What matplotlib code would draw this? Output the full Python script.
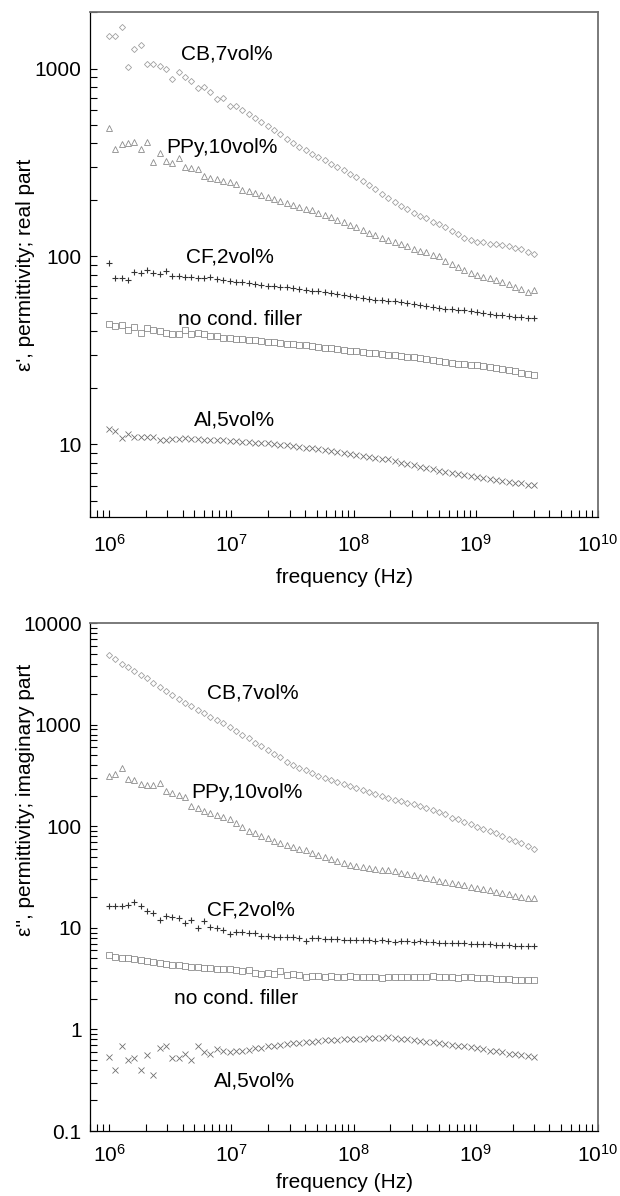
import numpy as np
import matplotlib
matplotlib.use("Agg")
import matplotlib.pyplot as plt
from matplotlib.ticker import LogLocator, NullFormatter, FuncFormatter

plt.rcParams['font.family'] = ['Liberation Sans', 'DejaVu Sans']

# sweep frequencies, MHz (1 MHz .. 3 GHz)
freq_mhz = [1.00, 1.127, 1.270, 1.431, 1.613, 1.817, 2.048, 2.308, 2.601, 2.931,
            3.304, 3.723, 4.196, 4.728, 5.329, 6.005, 6.767, 7.626, 8.594, 9.685,
            10.91, 12.30, 13.86, 15.62, 17.60, 19.84, 22.35, 25.19, 28.39, 32.00,
            36.06, 40.63, 45.79, 51.60, 58.16, 65.54, 73.86, 83.23, 93.80, 105.7,
            119.1, 134.2, 151.3, 170.5, 192.1, 216.5, 244.0, 275.0, 309.9, 349.2,
            393.6, 443.6, 499.9, 563.3, 634.8, 715.4, 806.2, 908.6, 1024, 1154,
            1300, 1465, 1651, 1861, 2097, 2363, 2663, 3001]

# real part
cb_real = [1490, 1500, 1670, 1020, 1270, 1340, 1060, 1060, 1030, 1000,
           880, 960, 905, 860, 790, 800, 755, 685, 700, 630,
           630, 605, 575, 545, 520, 497, 470, 448, 420, 400,
           383, 368, 352, 338, 325, 312, 300, 288, 276, 265,
           252, 240, 228, 216, 205, 195, 186, 178, 171, 164,
           160, 153, 148, 143, 137, 131, 126, 123, 119, 120,
           117, 116, 115, 113, 111, 109, 106, 103]
ppy_real = [485, 372, 398, 400, 408, 372, 405, 318, 355, 322,
            314, 334, 300, 295, 292, 268, 262, 258, 252, 248,
            244, 226, 222, 218, 213, 208, 203, 198, 193, 189,
            184, 180, 176, 171, 167, 162, 157, 152, 147, 143,
            138, 134, 130, 126, 122, 119, 116, 113, 110, 107,
            105, 102, 100, 95, 91, 88, 85, 82, 80, 78,
            77, 75, 73, 71, 69, 67, 65, 66]
cf_real = [92, 77, 77, 74.5, 83, 81.5, 85, 82, 80.5, 84,
           78.5, 78.5, 78, 77.5, 77, 77, 78, 75.5, 75, 74,
           73.5, 73, 72.2, 71.5, 70.7, 70, 69.3, 69, 68.5, 67.9,
           67.2, 66.5, 65.8, 65.2, 64.5, 63.8, 63, 62.3, 61.6, 61,
           60.3, 59.6, 59, 58.5, 58, 57.6, 57.2, 56.5, 55.8, 55.2,
           54.6, 54, 53.4, 52.8, 52.4, 52, 51.6, 51, 50.4, 49.8,
           49.3, 48.9, 48.5, 48.2, 47.9, 47.5, 47.2, 47]
none_real = [43.5, 42.5, 43.3, 40.5, 42, 39, 41.5, 40.5, 40, 39.3,
             38.5, 38.8, 40.5, 38.8, 39, 38.8, 37.5, 37.8, 37, 36.8,
             36.5, 36.2, 36, 35.8, 35.5, 35.2, 35, 34.7, 34.4, 34.1,
             33.9, 33.6, 33.3, 33, 32.7, 32.4, 32.1, 31.8, 31.5, 31.2,
             31, 30.8, 30.5, 30.2, 30, 29.8, 29.5, 29.3, 29.0, 28.8,
             28.5, 28.2, 27.9, 27.5, 27.1, 26.9, 26.7, 26.5, 26.3, 26.1,
             25.8, 25.5, 25.2, 24.8, 24.5, 24.1, 23.8, 23.5]
al_real = [12.1, 11.8, 10.8, 11.4, 11.0, 10.9, 10.9, 11.0, 10.6, 10.6,
           10.7, 10.7, 10.8, 10.7, 10.7, 10.6, 10.6, 10.5, 10.5, 10.4,
           10.4, 10.3, 10.3, 10.2, 10.1, 10.1, 10.0, 9.95, 9.9, 9.8,
           9.7, 9.6, 9.5, 9.4, 9.3, 9.2, 9.1, 9.0, 8.9, 8.8,
           8.7, 8.6, 8.5, 8.4, 8.3, 8.15, 8.0, 7.9, 7.75, 7.6,
           7.5, 7.4, 7.25, 7.15, 7.05, 6.95, 6.85, 6.75, 6.7, 6.6,
           6.55, 6.45, 6.4, 6.3, 6.25, 6.2, 6.1, 6.05]

# imaginary part
cb_imag = [4800, 4400, 4000, 3700, 3350, 3100, 2850, 2600, 2350, 2150,
           1950, 1800, 1650, 1520, 1400, 1300, 1200, 1110, 1030, 945,
           870, 800, 740, 665, 620, 570, 520, 480, 425, 400,
           375, 355, 335, 315, 300, 285, 272, 260, 247, 236,
           226, 216, 207, 197, 189, 183, 177, 171, 165, 157,
           152, 145, 138, 131, 122, 117, 111, 105, 99, 94,
           90, 85, 80, 75, 71, 68, 64, 60]
ppy_imag = [310, 330, 375, 295, 285, 258, 255, 254, 265, 222,
            212, 203, 195, 160, 150, 143, 136, 130, 124, 118,
            108, 98, 90, 85, 80, 76, 72, 68, 65, 62,
            60, 58, 55, 52, 49.5, 47.5, 45.5, 43.5, 42, 41,
            40, 39, 38, 37.5, 37, 36, 35, 34, 33, 32,
            31, 30, 29, 28.2, 27.5, 26.8, 26.2, 25.5, 24.8, 24,
            23.4, 22.8, 22.2, 21.5, 20.8, 20.2, 19.7, 19.5]
cf_imag = [16.4, 16.6, 16.6, 16.7, 18.0, 16.4, 14.6, 14.1, 11.9, 13.1,
           12.8, 12.6, 11.2, 11.9, 10.0, 11.6, 10.2, 9.9, 9.5, 8.7,
           9.2, 9.2, 9.0, 8.95, 8.4, 8.3, 8.2, 8.1, 8.05, 8.05,
           7.9, 7.5, 7.9, 7.9, 7.85, 7.7, 7.8, 7.6, 7.65, 7.6,
           7.55, 7.55, 7.5, 7.55, 7.45, 7.3, 7.4, 7.35, 7.3, 7.4,
           7.2, 7.2, 7.15, 7.15, 7.1, 7.1, 7.05, 7.0, 6.95, 6.95,
           6.9, 6.85, 6.8, 6.75, 6.7, 6.7, 6.65, 6.6]
none_imag = [5.4, 5.2, 5.1, 5.0, 4.9, 4.8, 4.7, 4.6, 4.5, 4.45,
             4.35, 4.3, 4.2, 4.15, 4.1, 4.05, 4.05, 3.95, 3.95, 3.9,
             3.85, 3.75, 3.85, 3.6, 3.55, 3.6, 3.5, 3.75, 3.4, 3.55,
             3.45, 3.3, 3.35, 3.35, 3.3, 3.35, 3.3, 3.3, 3.35, 3.25,
             3.3, 3.25, 3.3, 3.2, 3.3, 3.3, 3.3, 3.3, 3.25, 3.3,
             3.3, 3.35, 3.25, 3.3, 3.25, 3.2, 3.25, 3.25, 3.2, 3.2,
             3.2, 3.15, 3.15, 3.15, 3.1, 3.1, 3.1, 3.05]
al_imag = [0.54, 0.40, 0.68, 0.50, 0.52, 0.40, 0.56, 0.36, 0.65, 0.68,
           0.52, 0.52, 0.58, 0.50, 0.68, 0.60, 0.58, 0.64, 0.61, 0.60,
           0.62, 0.61, 0.63, 0.65, 0.66, 0.68, 0.69, 0.71, 0.72, 0.73,
           0.74, 0.75, 0.76, 0.77, 0.78, 0.78, 0.79, 0.80, 0.80, 0.81,
           0.81, 0.82, 0.82, 0.83, 0.84, 0.82, 0.81, 0.80, 0.78, 0.77,
           0.76, 0.75, 0.73, 0.72, 0.71, 0.69, 0.68, 0.67, 0.65, 0.64,
           0.62, 0.61, 0.60, 0.58, 0.57, 0.56, 0.55, 0.54]

labels = ["CB,7vol%", "PPy,10vol%", "CF,2vol%", "no cond. filler", "Al,5vol%"]

freq = np.array(freq_mhz) * 1e6

# marker, size, colour per series
styles = [
    dict(marker='D', ms=3.1, mfc='none', mec='#a0a0a0', mew=0.6),
    dict(marker='^', ms=4.3, mfc='none', mec='#8c8c8c', mew=0.6),
    dict(marker='+', ms=5.0, mfc='none', mec='#333333', mew=0.8),
    dict(marker='s', ms=4.2, mfc='none', mec='#8c8c8c', mew=0.6),
    dict(marker='x', ms=4.0, mfc='none', mec='#707070', mew=0.6),
]

fig = plt.figure(figsize=(6.2, 11.96), dpi=100)
ax1 = fig.add_axes([0.1452, 0.5677, 0.8194, 0.4222])
ax2 = fig.add_axes([0.1452, 0.0543, 0.8194, 0.4247])


def style_axes(ax, ylim, ylabel, xpad, xlabelpad, ylabel_y):
    ax.set_xscale('log')
    ax.set_yscale('log')
    ax.set_xlim(7e5, 1e10)
    ax.set_ylim(*ylim)
    ax.xaxis.set_major_locator(LogLocator(base=10, numticks=20))
    ax.xaxis.set_minor_locator(LogLocator(base=10, subs=np.arange(2, 10), numticks=100))
    ax.yaxis.set_major_locator(LogLocator(base=10, numticks=20))
    ax.yaxis.set_minor_locator(LogLocator(base=10, subs=np.arange(2, 10), numticks=100))
    ax.xaxis.set_minor_formatter(NullFormatter())
    ax.yaxis.set_minor_formatter(NullFormatter())
    ax.yaxis.set_major_formatter(FuncFormatter(lambda v, p: '%g' % v))
    ax.tick_params(which='both', direction='in', length=5, width=0.8,
                   top=False, right=False, labelsize=15)
    ax.tick_params(axis='y', pad=6)
    ax.tick_params(axis='x', pad=xpad)
    for side in ('top', 'right'):
        ax.spines[side].set_color('#707070')
        ax.spines[side].set_linewidth(1.3)
    for side in ('left', 'bottom'):
        ax.spines[side].set_color('black')
        ax.spines[side].set_linewidth(0.9)
    ax.set_xlabel("frequency (Hz)", fontsize=15, labelpad=xlabelpad)
    ax.set_ylabel(ylabel, fontsize=15)
    ax.yaxis.set_label_coords(-0.108, ylabel_y)


style_axes(ax1, (4.1, 2000), "ε', permittivity; real part", 12, 9, 0.5)
style_axes(ax2, (0.1, 10000), "ε'', permittivity; imaginary part", 9.5, 5, 0.652)

real_series = [cb_real, ppy_real, cf_real, none_real, al_real]
imag_series = [cb_imag, ppy_imag, cf_imag, none_imag, al_imag]
for vals, st in zip(real_series, styles):
    ax1.plot(freq, vals, linestyle='none', **st)
for vals, st in zip(imag_series, styles):
    ax2.plot(freq, vals, linestyle='none', **st)

# curve labels (axes fraction)
pos_real = [(0.179, 0.917), (0.150, 0.731), (0.189, 0.514), (0.173, 0.391), (0.205, 0.193)]
pos_imag = [(0.231, 0.863), (0.199, 0.666), (0.231, 0.435), (0.165, 0.261), (0.244, 0.099)]
for lab, (x, y) in zip(labels, pos_real):
    ax1.text(x, y, lab, transform=ax1.transAxes, fontsize=15, ha='left', va='center')
for lab, (x, y) in zip(labels, pos_imag):
    ax2.text(x, y, lab, transform=ax2.transAxes, fontsize=15, ha='left', va='center')

fig.savefig("out.png", dpi=100)
